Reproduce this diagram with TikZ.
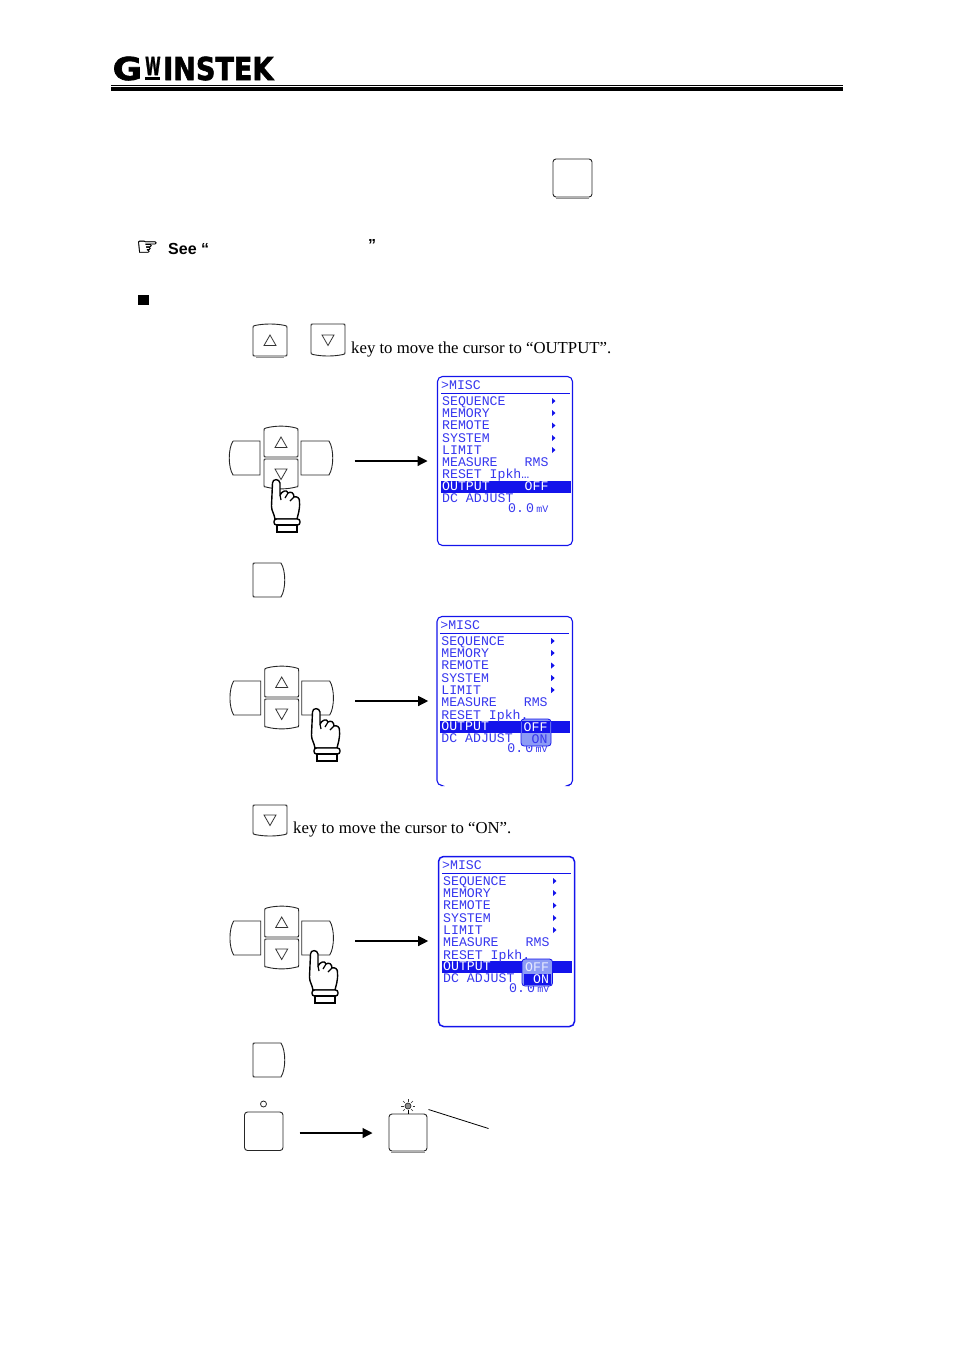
\documentclass[tikz,border=0pt]{standalone}
\usepackage{fontspec}
\usepackage{tikz}
\usetikzlibrary{arrows.meta}
\setmainfont{Liberation Serif}
\newfontfamily\lcdfont{Liberation Mono}
\newfontfamily\notefont{Liberation Sans}
\newfontfamily\iconfont[FakeBold=1.2]{DejaVu Sans}
\newfontfamily\logofont[FakeBold=2]{DejaVu Sans Bold}
\definecolor{lcdblue}{RGB}{20,20,235}
\definecolor{popblue}{RGB}{140,155,245}
\definecolor{keygray}{RGB}{150,150,150}

\tikzset{
    keyline/.style={line width=0.9pt, black!85, fill=white},
    mark tri/.style={line width=0.8pt, black!80},
    body/.style={inner sep=0pt, anchor=base west, font=\fontsize{16.75}{18}\selectfont},
    lcdtext/.style={inner sep=0pt, anchor=west, text height=8.7pt, text depth=0pt, text=lcdblue!85!white, font=\lcdfont\fontsize{13.2}{14}\selectfont},
    lcdbox/.style={draw=lcdblue, line width=1.1pt, rounded corners=5pt},
    go/.style={line width=1.2pt, -{Triangle[length=10pt,width=10pt]}},
    hand/.pic={
        \draw[line width=1.4pt, black, fill=white, line join=round]
            (-1,39) .. controls (-2,33) and (-4.5,31) .. (-4.5,26)
            -- (-3.5,3) .. controls (-3.5,-1.5) and (3.5,-1.5) .. (4,3) -- (4,15)
            .. controls (6,11) and (11,9) .. (12,13)
            .. controls (15,11) and (18,13) .. (18,17)
            .. controls (21,16) and (24,18) .. (23.5,22)
            .. controls (24,30) and (22,34) .. (21,39) -- cycle;
        \draw[line width=1.2pt] (4,15) -- (5,20) (12,13) -- (9,18) (18,17) -- (14,21);
        \draw[line width=1.4pt, fill=white, rounded corners=2.5pt] (-2,39) rectangle (24,45);
        \draw[line width=1.4pt, fill=white] (1,45) rectangle (21,52);
    }
}

\begin{document}
\begin{tikzpicture}[x=1pt, y=-1pt]
    \useasboundingbox (0,0) rectangle (954,1350);

    % Logo and header rule
    \node[inner sep=0pt, anchor=base west] (logog) at (112.5,80)
        {\logofont\fontsize{31.5}{32}\selectfont\scalebox{1.14}[1]{G}};
    \node[inner sep=0pt, anchor=base west] (logow) at (145,75)
        {\logofont\fontsize{25}{26}\selectfont\scalebox{0.56}[1]{W}};
    \fill (145,76.5) rectangle (160,80);
    \node[inner sep=0pt, anchor=base west] (logoname) at (163,80)
        {\logofont\fontsize{31.5}{32}\selectfont\scalebox{0.86}[1]{INSTEK}};
    \fill (111,85) rectangle (843,86);
    \fill (111,87) rectangle (843,91);

    % Key at the top
    \draw[keyline, rounded corners=3pt] (553,159) rectangle (592,197);
    \draw[keygray, line width=1pt] (556,198) -- (589,198);

    % Note line
    \node[inner sep=0pt, anchor=base west, font=\iconfont\fontsize{25}{26}\selectfont] (pointer) at (136,255) {☞};
    \node[inner sep=0pt, anchor=base west, font=\notefont\bfseries\fontsize{16}{18}\selectfont] (seeopen) at (168,254) {See “};
    \node[inner sep=0pt, anchor=base west, font=\notefont\bfseries\fontsize{16}{18}\selectfont] (seeclose) at (368,250) {”};

    % Bullet
    \node[fill=black, inner sep=0pt, minimum size=10.5pt] (bullet) at (143.5,300) {};

    % Up and down keys in the text
    \draw[keyline] (255,325.5) .. controls (264,323.5) and (276,323.5) .. (285,325.5)
        .. controls (287,326) .. (287,328) -- (287,354) .. controls (287,356) .. (285,356) -- (255,356)
        .. controls (253,356) .. (253,354) -- (253,328) .. controls (253,326) .. (255,325.5);
    \draw[keygray, line width=1pt] (256,357) -- (284,357);
    \draw[mark tri] (270,335) -- (276,345.5) -- (264,345.5) -- cycle;
    \draw[keyline] (313,324) -- (343,324) .. controls (345,324) .. (345,326) -- (345,352)
        .. controls (345,354) .. (343,354.5) .. controls (334,356.5) and (322,356.5) .. (313,354.5)
        .. controls (311,354) .. (311,352) -- (311,326) .. controls (311,324) .. (313,324);
    \draw[mark tri] (322,335) -- (334,335) -- (328,345.5) -- cycle;
    \node[body] (stepone) at (351,353) {key to move the cursor to “OUTPUT”.};

    % Keypads
    \foreach \p/\dx/\dy in {a/0/0, b/0.7/240, c/0.7/480} {
        \begin{scope}[shift={(\dx,\dy)}]
            \draw[keyline] (266,428) .. controls (275,425.5) and (287,425.5) .. (296,428)
                .. controls (298,428.5) .. (298,431) -- (298,455) .. controls (298,457) .. (296,457) -- (266,457)
                .. controls (264,457) .. (264,455) -- (264,431) .. controls (264,428.5) .. (266,428);
            \draw[mark tri] (281,437) -- (287,447.5) -- (275,447.5) -- cycle;
            \draw[keyline] (266,459) -- (296,459) .. controls (298,459) .. (298,461) -- (298,485)
                .. controls (298,487) .. (296,487) .. controls (287,489.5) and (275,489.5) .. (266,487)
                .. controls (264,487) .. (264,485) -- (264,461) .. controls (264,459) .. (266,459);
            \draw[mark tri] (275,469) -- (287,469) -- (281,479.5) -- cycle;
            \draw[keyline] (233,441) -- (260,441) -- (260,475) -- (233,475)
                .. controls (228,467) and (228,449) .. (233,441);
            \draw[keyline] (301,441) -- (329,441) .. controls (334,449) and (334,467) .. (329,475) -- (301,475) -- cycle;
            \coordinate (go\p-start) at (354.5,461);
            \coordinate (go\p-end) at (427.5,461);
        \end{scope}
        \draw[go] (go\p-start) -- (go\p-end);
    }
    \pic at (276,480) {hand};
    \pic at (316,709) {hand};
    \pic at (314,951) {hand};

    % Screens
    \draw[lcdbox] (437.5,376.5) rectangle (572.5,545.5);
    \draw[lcdbox] (440.5,785.5) -- (437,785.5) -- (437,616.5) -- (572.5,616.5) -- (572.5,785.5) -- (569.5,785.5);
    \draw[lcdbox, line width=1.5pt] (438.5,856.5) rectangle (574.5,1026.5);
    \foreach \p/\dx/\dy in {a/0/0, b/-0.8/240, c/1/480} {
        \begin{scope}[shift={(\dx,\dy)}]
            \node[lcdtext] (title\p) at (441,385) {>MISC};
            \draw[lcdblue, line width=0.8pt] (441,393.5) -- (570,393.5);
            \fill[lcdblue] (441,481) rectangle (570.5,493);
            \foreach \row/\y/\txt in {1/401/SEQUENCE, 2/413/MEMORY, 3/425.5/REMOTE, 4/438/SYSTEM, 5/450/LIMIT, 6/462/MEASURE}
                \node[lcdtext] (item\p-\row) at (442,\y) {\txt};
            \foreach \y in {401,413,425.5,438,450}
                \fill[lcdblue] (552,\y-3) -- (555.5,\y) -- (552,\y+3) -- cycle;
            \node[lcdtext] (rms\p) at (524.5,462) {RMS};
            \node[lcdtext, text=white] (output\p) at (442,486.5) {OUTPUT};
            \node[lcdtext] (adjust\p) at (442,498.5) {DC ADJUST};
            \node[lcdtext, anchor=east] (value\p) at (548.5,508.5) {0.\,0\,\fontsize{10}{11}\selectfont mV};
        \end{scope}
    }
    \node[lcdtext] (resetIa) at (442,474.5) {RESET Ipkh…};
    \node[lcdtext] (resetIb) at (441.2,715) {RESET Ipkh.};
    \node[lcdtext] (resetIc) at (443,955) {RESET Ipkh.};

    % OFF on the first screen
    \node[lcdtext, text=white] (offa) at (524.5,486.5) {OFF};

    % Popup on the second screen
    \draw[lcdblue, fill=popblue, line width=0.8pt, rounded corners=3pt] (521,719) rectangle (551,746);
    \fill[lcdblue] (522,721) rectangle (550,733);
    \node[lcdtext, text=white] (offb) at (523.5,727) {OFF};
    \node[lcdtext] (onb) at (531.5,739.5) {ON};

    % Popup on the third screen
    \draw[lcdblue, fill=popblue, line width=0.8pt, rounded corners=3pt] (522,959) rectangle (552.5,986);
    \fill[lcdblue] (524,973.5) rectangle (551,985);
    \node[lcdtext, text=white!80!popblue] (offc) at (525,967) {OFF};
    \node[lcdtext, text=white] (onc) at (533,979.5) {ON};

    % Step keys
    \foreach \y in {563,1043} {
        \draw[keyline] (255,\y) -- (281,\y) .. controls (286,\y+8) and (286,\y+26) .. (281,\y+34)
            -- (255,\y+34) .. controls (253,\y+34) .. (253,\y+32) -- (253,\y+2) .. controls (253,\y) .. (255,\y);
    }
    \draw[keyline] (255,805) -- (285,805) .. controls (287,805) .. (287,807) -- (287,832)
        .. controls (287,834) .. (285,834.5) .. controls (276,836.5) and (264,836.5) .. (255,834.5)
        .. controls (253,834) .. (253,832) -- (253,807) .. controls (253,805) .. (255,805);
    \draw[mark tri] (264,815) -- (276,815) -- (270,825.5) -- cycle;
    \node[body] (stepthree) at (293,833) {key to move the cursor to “ON”.};

    % Output key, off and on
    \draw[keyline, rounded corners=3pt] (244.5,1112) rectangle (283,1150.5);
    \draw[line width=0.8pt, black!85] (263.5,1104) circle (3pt);
    \draw[keyline, rounded corners=3pt] (389,1114) rectangle (427,1151);
    \draw[keygray, line width=1pt] (391,1152) -- (425,1152);
    \draw[line width=0.7pt, black!85, fill=black!45] (408,1106) circle (3pt);
    \foreach \a in {0,45,...,315}
        \draw[line width=0.6pt, black!80] (408,1106) ++(\a:4.5pt) -- ++(\a:2.5pt);
    \draw[line width=0.7pt] (408,1110) -- (408,1114);
    \coordinate (gooff) at (299.5,1133);
    \coordinate (goon) at (372.5,1133);
    \draw[go] (gooff) -- (goon);
    \coordinate (leadstart) at (428.5,1109.5);
    \coordinate (leadend) at (488.5,1128.5);
    \draw[line width=0.8pt] (leadstart) -- (leadend);
\end{tikzpicture}
\end{document}
